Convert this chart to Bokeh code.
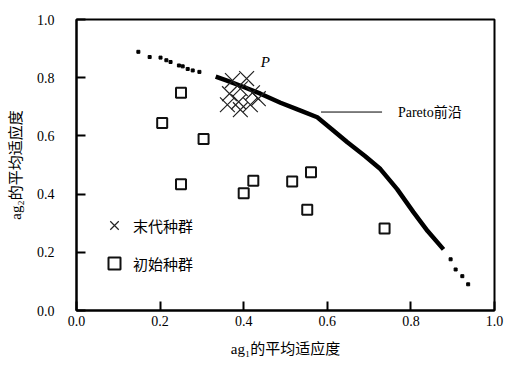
from bokeh.plotting import figure
from bokeh.models import Label, Legend, LegendItem, FixedTicker, Range1d
from bokeh.embed import file_html
from bokeh.resources import INLINE

# Pareto front (dense part)
front_x = [0.333, 0.36, 0.40, 0.44, 0.488, 0.53, 0.576, 0.61, 0.648, 0.69, 0.727, 0.767, 0.806, 0.84, 0.878]
front_y = [0.804, 0.790, 0.768, 0.745, 0.714, 0.690, 0.664, 0.624, 0.578, 0.531, 0.486, 0.417, 0.338, 0.273, 0.210]
# sparse front points at both ends
dots_x = [0.148, 0.175, 0.201, 0.215, 0.225, 0.245, 0.254, 0.266, 0.278, 0.294, 0.895, 0.907, 0.923, 0.937]
dots_y = [0.889, 0.871, 0.869, 0.860, 0.854, 0.842, 0.839, 0.830, 0.825, 0.820, 0.176, 0.141, 0.118, 0.090]
# final population (X)
final_x = [0.373, 0.407, 0.392, 0.366, 0.421, 0.388, 0.361, 0.416, 0.392, 0.435]
final_y = [0.790, 0.797, 0.762, 0.745, 0.748, 0.717, 0.707, 0.707, 0.690, 0.728]
# initial population (squares)
init_x = [0.250, 0.205, 0.304, 0.250, 0.400, 0.423, 0.516, 0.561, 0.552, 0.737]
init_y = [0.748, 0.644, 0.589, 0.434, 0.403, 0.446, 0.443, 0.475, 0.346, 0.282]
# annotation pointer line
ptr_x0 = [0.585]
ptr_x1 = [0.731]
ptr_y = [0.682]

ticks = [0.0, 0.2, 0.4, 0.6, 0.8, 1.0]
tick_labels = {0.0: "0.0", 0.2: "0.2", 0.4: "0.4", 0.6: "0.6", 0.8: "0.8", 1.0: "1.0"}

p = figure(width=508, height=363, output_backend="svg", toolbar_location=None,
           x_range=Range1d(0, 1), y_range=Range1d(0, 1),
           min_border_left=76, min_border_right=14, min_border_top=19, min_border_bottom=53)
p.grid.visible = False
p.outline_line_color = "black"
p.outline_line_width = 2
p.background_fill_color = "white"
p.border_fill_color = "white"

for ax in (p.xaxis, p.yaxis):
    ax.ticker = FixedTicker(ticks=ticks)
    ax.major_label_overrides = tick_labels
    ax.minor_tick_line_color = None
    ax.major_tick_in = 9
    ax.major_tick_out = 0
    ax.major_tick_line_width = 2
    ax.axis_line_width = 2
    ax.major_label_text_font = "Liberation Serif"
    ax.major_label_text_font_size = "14px"
    ax.major_label_text_color = "black"
    ax.axis_label_text_font = "'Liberation Serif', 'Noto Sans CJK SC'"
    ax.axis_label_text_font_size = "15px"
    ax.axis_label_text_font_style = "normal"
    ax.axis_label_text_color = "black"

p.xaxis.major_label_standoff = 5
p.yaxis.major_label_standoff = 22
p.xaxis.axis_label = "ag₁的平均适应度"
p.yaxis.axis_label = "ag₂的平均适应度"
p.xaxis.axis_label_standoff = 12
p.yaxis.axis_label_standoff = 10

# front
p.line(front_x, front_y, line_color="black", line_width=4.5)
p.scatter(dots_x, dots_y, marker="square", size=3, fill_color="black", line_color="black")

# populations
r_final = p.scatter(final_x, final_y, marker="x", size=21, line_color="#222222", line_width=1.2)
r_init = p.scatter(init_x, init_y, marker="square", size=10, fill_color=None,
                   line_color="#111111", line_width=2)

# pointer and labels
p.segment(ptr_x0, ptr_y, ptr_x1, ptr_y, line_color="black", line_width=1)
p.add_layout(Label(x=0.769, y=0.682, text="Pareto前沿", text_align="left", text_baseline="middle",
                   text_font="'Liberation Serif', 'Noto Sans CJK SC'", text_font_size="14px",
                   text_color="black"))
p.add_layout(Label(x=0.452, y=0.855, text="P", text_align="center", text_baseline="middle",
                   text_font="Liberation Serif", text_font_style="italic", text_font_size="15px",
                   text_color="black"))

legend = Legend(items=[LegendItem(label="末代种群", renderers=[r_final]),
                       LegendItem(label="初始种群", renderers=[r_init])],
                location=(23, 32), orientation="vertical")
legend.glyph_width = 30
legend.glyph_height = 30
legend.label_height = 30
legend.spacing = 8
legend.padding = 0
legend.margin = 0
legend.label_standoff = 4
legend.border_line_color = None
legend.background_fill_alpha = 0
legend.label_text_font = "Noto Sans CJK SC"
legend.label_text_font_size = "15px"
legend.label_text_color = "black"
p.add_layout(legend)

open("out.html", "w").write(file_html(p, INLINE))
